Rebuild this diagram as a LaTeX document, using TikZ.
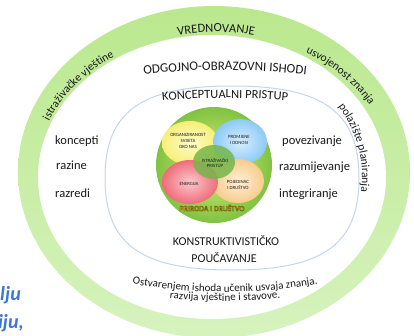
\documentclass[tikz,border=0pt]{standalone}
\usepackage{fontspec}
\setmainfont{Carlito}
\usetikzlibrary{decorations.text}
\definecolor{bandtop}{RGB}{186,232,142}
\definecolor{bandbot}{RGB}{214,243,190}
\definecolor{ringblue}{RGB}{196,214,238}
\definecolor{discin}{RGB}{222,240,120}
\definecolor{discout}{RGB}{128,194,66}
\definecolor{yelin}{RGB}{255,253,200}
\definecolor{yelout}{RGB}{247,238,120}
\definecolor{bluin}{RGB}{215,238,255}
\definecolor{bluout}{RGB}{140,202,245}
\definecolor{redin}{RGB}{252,200,205}
\definecolor{redout}{RGB}{238,108,122}
\definecolor{pchin}{RGB}{255,240,215}
\definecolor{pchout}{RGB}{248,204,140}
\definecolor{midgreen}{RGB}{118,182,76}
\definecolor{prdfill}{RGB}{250,238,70}
\definecolor{fragblue}{RGB}{62,118,214}
\definecolor{txt}{RGB}{25,25,25}
\tikzset{
  plain/.style={font=\fontsize{12.5}{14}\selectfont, text=txt, inner sep=0pt},
  caps/.style={font=\fontsize{12}{14}\selectfont, text=txt, inner sep=0pt},
  blobtxt/.style={font=\fontsize{4.8}{5.8}\selectfont, text=txt, align=center, inner sep=0pt},
  prd/.style={font=\fontsize{7.6}{9}\selectfont\bfseries, text=prdfill, inner sep=0pt},
  frag/.style={font=\fontsize{20}{22}\selectfont\bfseries\itshape, text=fragblue, inner sep=0pt},
}
\begin{document}
\begin{tikzpicture}[x=1pt,y=-1pt]
\useasboundingbox (0,0) rectangle (414,335);
\clip (0,0) rectangle (414,335);
% outer green band
\shade[top color=bandtop, bottom color=bandbot] (214,172) ellipse [x radius=196, y radius=166];
\fill[white] (212,177) ellipse [x radius=174, y radius=142];
% light blue ring
\draw[ringblue, line width=1pt] (105,178) .. controls (105,111.8) and (140.6,86) .. (232,86)
  .. controls (323.4,86) and (359,111.8) .. (359,178)
  .. controls (359,244.2) and (323.4,270) .. (232,270)
  .. controls (140.6,270) and (105,244.2) .. (105,178) -- cycle;
% central disc
\shade[inner color=discin, outer color=discout] (214,165) circle [radius=58];
\shade[inner color=yelin, outer color=yelout] (190,143) ellipse [x radius=28, y radius=22];
\shade[inner color=bluin, outer color=bluout] (240,142) ellipse [x radius=27, y radius=23];
\shade[inner color=pchin, outer color=pchout] (238,181) ellipse [x radius=26, y radius=22];
\shade[inner color=redin, outer color=redout] (190,182) ellipse [x radius=28, y radius=22];
\fill[midgreen, opacity=0.85] (214,162) ellipse [x radius=21, y radius=17];
\node[blobtxt] (org) at (188,141) {ORGANIZIRANOST\\SVIJETA\\OKO NAS};
\node[blobtxt] (prom) at (239,140) {PROMJENE\\I ODNOSI};
\node[blobtxt] (istr) at (215,163) {ISTRAŽIVAČKI\\PRISTUP};
\node[blobtxt] (ener) at (189,184) {ENERGIJA};
\node[blobtxt] (poj) at (238,185) {POJEDINAC\\I DRUŠTVO};
\node[prd] (prir) at (212,208) {\special{pdf:literal direct 2 Tr 0.5 w 0.47 0.41 0.08 RG}PRIRODA I DRUŠTVO\special{pdf:literal direct 0 Tr}};
% curved texts in the green band
\path[decorate, decoration={text along path, text align=center,
  text={|\fontsize{12.5}{14}\selectfont\color{txt}|VREDNOVANJE}}]
  ([shift={(216,174)}]-135:178 and 142) arc[start angle=-135, end angle=-45, x radius=178, y radius=142];
\path[decorate, decoration={text along path, text align=center,
  text={|\fontsize{11.5}{14}\selectfont\color{txt}|istraživačke vještine}}]
  ([shift={(214,175)}]-172:178 and 143) arc[start angle=-172, end angle=-112, x radius=178, y radius=143];
\path[decorate, decoration={text along path, text align=center,
  text={|\fontsize{11.5}{14}\selectfont\color{txt}|usvojenost znanja}}]
  ([shift={(214,175)}]-72:178 and 143) arc[start angle=-72, end angle=-14, x radius=178, y radius=143];
\path[decorate, decoration={text along path, text align=center,
  text={|\fontsize{11.5}{14}\selectfont\color{txt}|polazište planiranja}}]
  ([shift={(214,176)}]-45:148 and 128) arc[start angle=-45, end angle=20, x radius=148, y radius=128];
% inner curved titles
\path[decorate, decoration={text along path, text align=center,
  text={|\fontsize{13}{15}\selectfont\color{txt}|ODGOJNO-OBRAZOVNI ISHODI}}]
  ([shift={(225,770)}]-100:700) arc[start angle=-100, end angle=-80, radius=700];
\path[decorate, decoration={text along path, text align=center,
  text={|\fontsize{12.5}{14}\selectfont\color{txt}|KONCEPTUALNI PRISTUP}}]
  ([shift={(225,798)}]-100:700) arc[start angle=-100, end angle=-80, radius=700];
\path[decorate, decoration={text along path, text align=center,
  text={|\fontsize{11}{13}\selectfont\color{txt}|Ostvarenjem ishoda učenik usvaja znanja.}}]
  ([shift={(225,-233)}]104:525) arc[start angle=104, end angle=76, radius=525];
\path[decorate, decoration={text along path, text align=center,
  text={|\fontsize{11}{13}\selectfont\color{txt}|razvija vještine i stavove.}}]
  ([shift={(225,-233)}]100:534) arc[start angle=100, end angle=80, radius=534];
% side words
\node[plain, anchor=base west] (konc) at (55,144) {koncepti};
\node[plain, anchor=base west] (razi) at (56,169) {razine};
\node[plain, anchor=base west] (razr) at (55,197) {razredi};
\node[plain, anchor=base west] (pove) at (282,144) {povezivanje};
\node[plain, anchor=base west] (razu) at (279,170) {razumijevanje};
\node[plain, anchor=base west] (inte) at (279,197) {integriranje};
\node[caps, anchor=base] (kons) at (226,245) {KONSTRUKTIVISTIČKO};
\node[caps, anchor=base] (pouc) at (224,262) {POUČAVANJE};
% cut-off fragments at lower left
\node[frag, anchor=base east] (fr1) at (21,300) {lju};
\node[frag, anchor=base east] (fr2) at (24,328) {iju,};
\end{tikzpicture}
\end{document}
